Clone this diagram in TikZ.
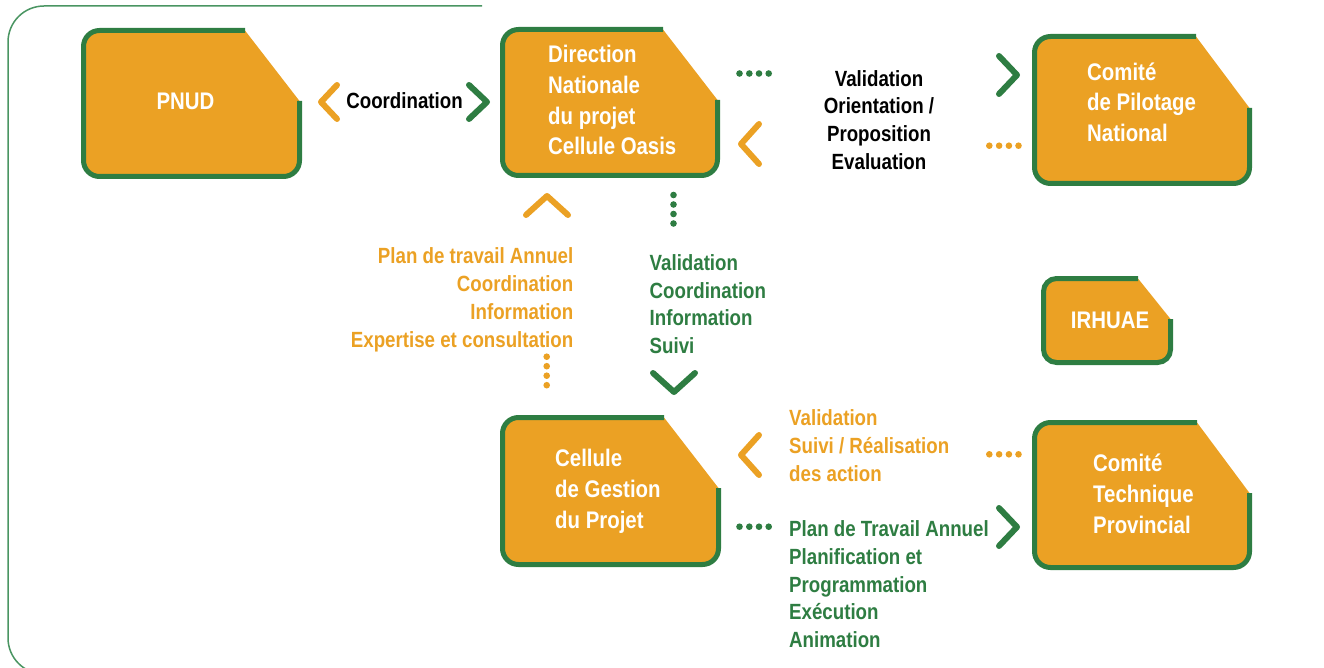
\documentclass[tikz,border=0pt]{standalone}
\usepackage{fontspec}
\setmainfont{Liberation Sans}[FakeStretch=0.85]
\definecolor{boxor}{HTML}{EBA124}
\definecolor{boxgr}{HTML}{2E7D42}
\definecolor{framegr}{HTML}{4A9562}
\tikzset{
  box/.style={fill=boxor, draw=boxgr, line width=5pt, rounded corners=16pt},
  boxtext/.style={font=\fontsize{24}{30.8}\selectfont\bfseries, text=white, inner sep=0pt, align=left},
  lab/.style={font=\fontsize{22}{27.7}\selectfont\bfseries, inner sep=0pt},
  chev/.style={line width=6pt, line cap=round, line join=round},
  dotg/.style={fill=boxgr},
  doto/.style={fill=boxor},
}
\begin{document}
\begin{tikzpicture}[x=1pt,y=-1pt]
\useasboundingbox (0,0) rectangle (1324,668);
\clip (0,0) rectangle (1324,668);
% outer frame
\draw[framegr, line width=1.5pt, rounded corners=36pt] (482,6) -- (8,6) -- (8,674) -- (400,674);

% boxes
\path[box] (245,30.5) -- (83.5,30.5) -- (83.5,176.5) -- (299.5,176.5) -- (299.5,101);
\path[box] (663,29.5) -- (502.5,29.5) -- (502.5,175.5) -- (717.5,175.5) -- (717.5,100);
\path[box] (1196,36.5) -- (1034.5,36.5) -- (1034.5,183.5) -- (1249.5,183.5) -- (1249.5,108);
\path[box, rounded corners=13pt] (1138,278.5) -- (1043.5,278.5) -- (1043.5,362.5) -- (1170.5,362.5) -- (1170.5,319);
\path[box] (664,417.5) -- (502.5,417.5) -- (502.5,564.5) -- (718.5,564.5) -- (718.5,488);
\path[box] (1197,422.5) -- (1034.5,422.5) -- (1034.5,567.5) -- (1249.5,567.5) -- (1249.5,493);

% box texts (base anchor = baseline of the last line)
\node[boxtext, anchor=base] (pnud) at (185.5,110) {PNUD};
\node[boxtext, anchor=base west] (dir) at (548,155) {Direction\\Nationale\\du projet\\Cellule Oasis};
\node[boxtext, anchor=base west] (cpn) at (1087,141.7) {Comité\\de Pilotage\\National};
\node[boxtext, anchor=base] (irh) at (1110,328.5) {IRHUAE};
\node[boxtext, anchor=base west] (cgp) at (555,528.3) {Cellule\\de Gestion\\du Projet};
\node[boxtext, anchor=base west] (ctp) at (1093,533.3) {Comité\\Technique\\Provincial};

% labels
\node[lab, anchor=base, text=black] (lcoord) at (404.5,109) {Coordination};
\node[lab, anchor=base, text=black, align=center] (lval) at (879,169.2) {Validation\\Orientation /\\Proposition\\Evaluation};
\node[lab, anchor=base east, text=boxor, align=right] (lplan) at (573.5,347) {Plan de travail Annuel\\Coordination\\Information\\Expertise et consultation};
\node[lab, anchor=base west, text=boxgr, align=left] (lvalg) at (649.5,353.5) {Validation\\Coordination\\Information\\Suivi};
\node[lab, anchor=base west, text=boxor, align=left] (lsuivi) at (789,481.2) {Validation\\Suivi / Réalisation\\des action};
\node[lab, anchor=base west, text=boxgr, align=left] (lpta) at (789,647.5) {Plan de Travail Annuel\\Planification et\\Programmation\\Exécution\\Animation};

% chevrons
\draw[chev, boxor] (337,85) -- (321,102) -- (337,119);
\draw[chev, boxgr] (469,85) -- (487,102) -- (469,119);
\draw[chev, boxgr] (999,56) -- (1017,75) -- (999,94);
\draw[chev, boxor] (759,124) -- (741,144) -- (759,164);
\draw[chev, boxor] (526,215) -- (547,196) -- (568,215);
\draw[chev, boxgr] (653,373) -- (674,392) -- (695,373);
\draw[chev, boxor] (759,435) -- (741,455) -- (759,475);
\draw[chev, boxgr] (999,508) -- (1017,527) -- (999,546);

% dots
\foreach \x in {739.5,749.3,759,768.7} {\fill[dotg] (\x,73.5) circle[radius=3.3];}
\foreach \x in {989.3,999.1,1008.9,1018.5} {\fill[doto] (\x,145.7) circle[radius=3.3];}
\foreach \y in {195,204.5,214,223.5} {\fill[dotg] (673.5,\y) circle[radius=3.3];}
\foreach \y in {356.7,366.2,375.7,385.2} {\fill[doto] (546.7,\y) circle[radius=3.3];}
\foreach \x in {989.3,999.1,1008.9,1018.5} {\fill[doto] (\x,454.3) circle[radius=3.3];}
\foreach \x in {739.5,749.3,759,768.7} {\fill[dotg] (\x,526.7) circle[radius=3.3];}
\end{tikzpicture}
\end{document}
